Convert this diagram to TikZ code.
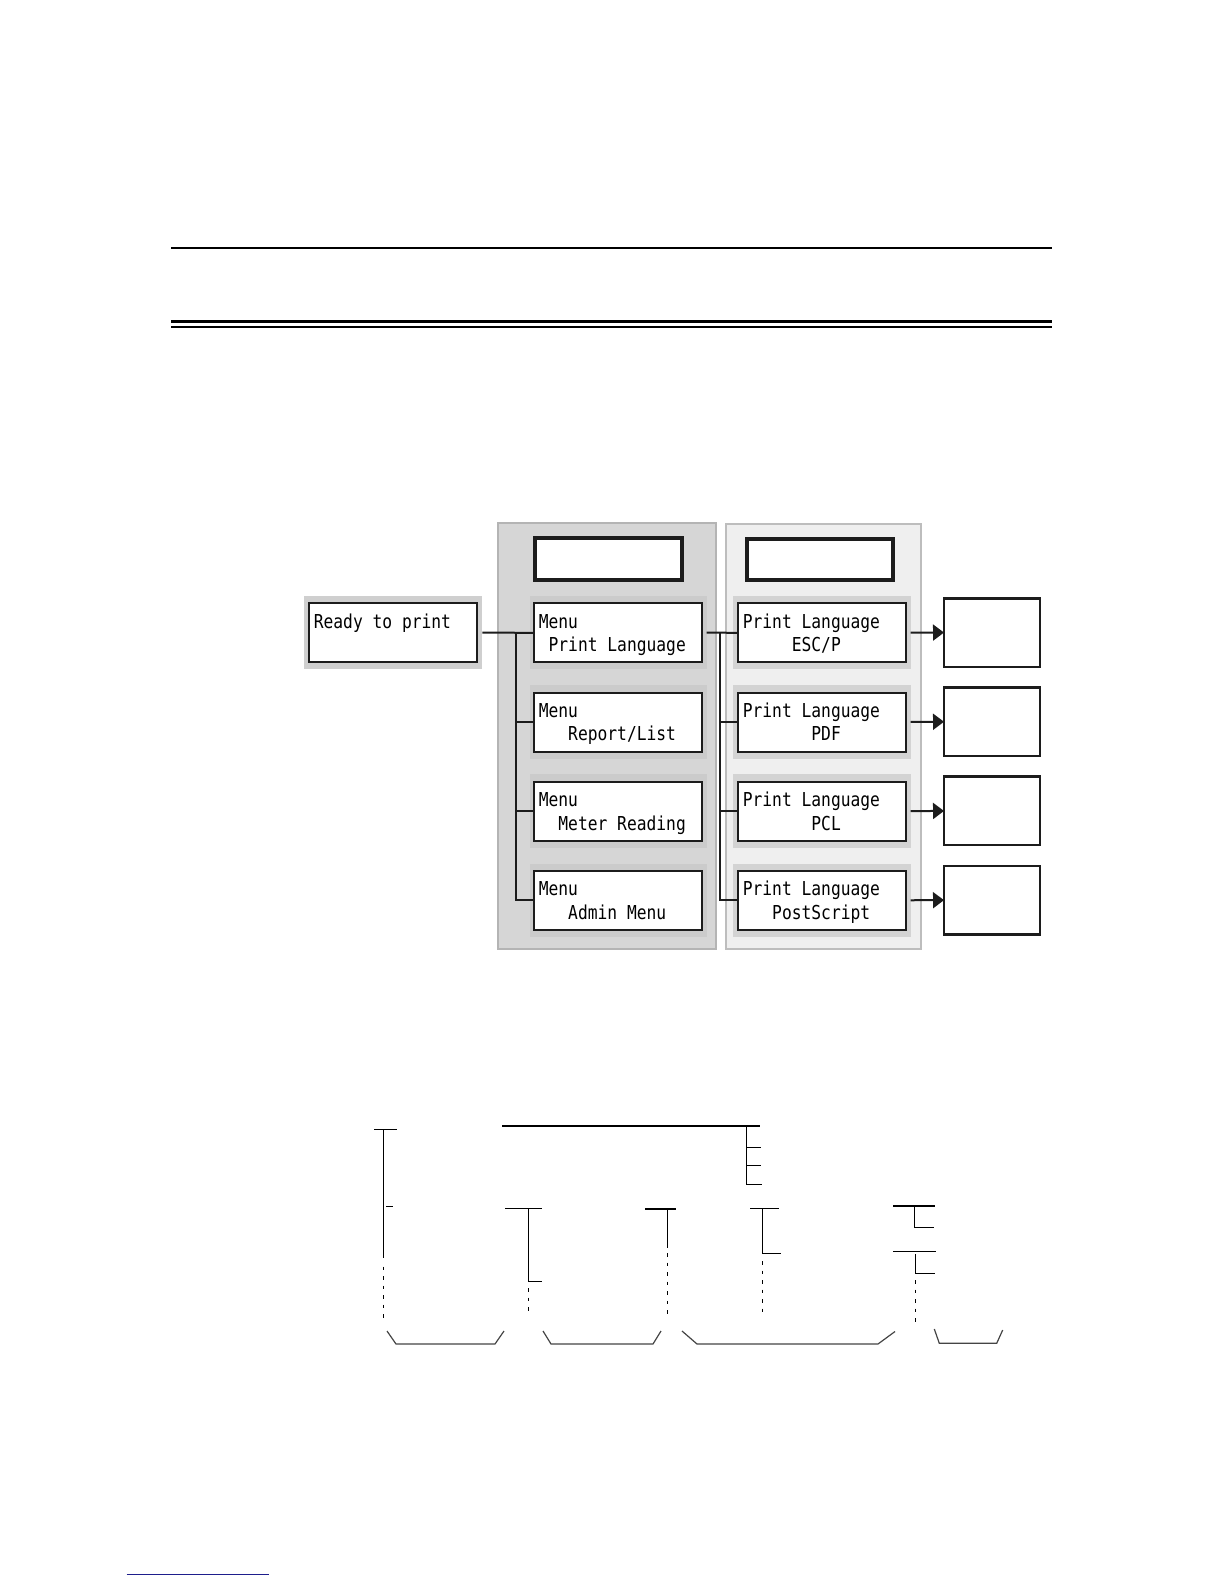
\documentclass[tikz,border=0pt]{standalone}
\usepackage{fontspec}
\newfontfamily\lcd[FakeStretch=0.848]{DejaVu Sans Mono}
\usetikzlibrary{arrows.meta}
\definecolor{panelLf}{HTML}{D6D6D6}
\definecolor{panelLb}{HTML}{B4B4B4}
\definecolor{panelRf}{HTML}{EFEFEF}
\definecolor{panelRb}{HTML}{BDBDBD}
\definecolor{frameL}{HTML}{CBCBCB}
\definecolor{frameR}{HTML}{D3D3D3}
\definecolor{frameReady}{HTML}{CFCFCF}
\definecolor{ink}{HTML}{1C1C1C}
\definecolor{linkblue}{RGB}{30,30,140}
\definecolor{bracegray}{HTML}{444444}
\begin{document}
\begin{tikzpicture}[x=1pt,y=-1pt,
  panelL/.style={draw=panelLb,fill=panelLf,line width=2,inner sep=0,outer sep=0,anchor=north west},
  panelR/.style={draw=panelRb,fill=panelRf,line width=2,inner sep=0,outer sep=0,anchor=north west},
  frmL/.style={fill=frameL,inner sep=0,outer sep=0,anchor=north west,minimum width=176.7,minimum height=73.3},
  frmR/.style={fill=frameR,inner sep=0,outer sep=0,anchor=north west,minimum width=177.4,minimum height=73.3},
  frmReady/.style={fill=frameReady,inner sep=0,outer sep=0,anchor=north west,minimum width=178.3,minimum height=73.3},
  lcdbox/.style={draw=ink,fill=white,line width=2,inner sep=0,outer sep=0,anchor=north west,minimum width=167.4,minimum height=59},
  headbox/.style={draw=ink,fill=white,line width=4,inner sep=0,outer sep=0,anchor=north west,minimum height=41.5},
  outbox/.style={draw=ink,fill=white,line width=2.5,inner sep=0,outer sep=0,anchor=north west,minimum width=96,minimum height=68.5},
  txt/.style={anchor=base west,inner sep=0,outer sep=0,font=\lcd\fontsize{19.2}{23.4}\selectfont},
  conn/.style={draw=ink,line width=2},
  arr/.style={draw=ink,line width=2,-{Triangle[length=11,width=16]}},
  skel/.style={draw=black,line width=1.3},
  dots/.style={draw=black,line width=1.3,dash pattern=on 3.5 off 6},
  brace/.style={draw=bracegray,line width=1.2},
  rule/.style={draw=black}
]
\useasboundingbox (0,0) rectangle (1224,1584);

% page rules
\draw[rule,line width=1.3] (171,248) -- (1052,248);
\draw[rule,line width=3] (171,321.5) -- (1052,321.5);
\draw[rule,line width=1.1] (171,327) -- (1052,327);

% panels
\node[panelL,minimum width=218.5,minimum height=426] (panL) at (497.5,523.3) {};
\node[panelR,minimum width=195.3,minimum height=425.3] (panR) at (725.7,524) {};
\node[headbox,minimum width=147.3] (headL) at (535,538.3) {};
\node[headbox,minimum width=146.6,minimum height=41] (headR) at (746.7,539) {};

% ready box
\node[frmReady] (readyf) at (304,596) {};
\node[lcdbox] (ready) at (309.3,603.3) {};
\node[txt] (readyt) at (313.8,628.3) {Ready to print};

% left column
\node[frmL] (m1f) at (530,596) {};
\node[lcdbox] (m1) at (534.3,603.3) {};
\node[txt] (m1a) at (538.8,628.3) {Menu};
\node[txt] (m1b) at (538.8,651.7) {\phantom{x}Print Language};

\node[frmL] (m2f) at (530,685.2) {};
\node[lcdbox] (m2) at (534.3,692.5) {};
\node[txt] (m2a) at (538.8,717.5) {Menu};
\node[txt] (m2b) at (538.8,740.9) {\phantom{xxx}Report/List};

\node[frmL] (m3f) at (530,774.4) {};
\node[lcdbox] (m3) at (534.3,781.7) {};
\node[txt] (m3a) at (538.8,806.7) {Menu};
\node[txt] (m3b) at (538.8,830.1) {\phantom{xx}Meter Reading};

\node[frmL] (m4f) at (530,863.6) {};
\node[lcdbox] (m4) at (534.3,870.9) {};
\node[txt] (m4a) at (538.8,895.9) {Menu};
\node[txt] (m4b) at (538.8,919.3) {\phantom{xxx}Admin Menu};

% right column
\node[frmR] (p1f) at (733.3,596) {};
\node[lcdbox] (p1) at (738.3,603.3) {};
\node[txt] (p1a) at (742.8,628.3) {Print Language};
\node[txt] (p1b) at (742.8,651.7) {\phantom{xxxxx}ESC/P};

\node[frmR] (p2f) at (733.3,685.2) {};
\node[lcdbox] (p2) at (738.3,692.5) {};
\node[txt] (p2a) at (742.8,717.5) {Print Language};
\node[txt] (p2b) at (742.8,740.9) {\phantom{xxxxxxx}PDF};

\node[frmR] (p3f) at (733.3,774.4) {};
\node[lcdbox] (p3) at (738.3,781.7) {};
\node[txt] (p3a) at (742.8,806.7) {Print Language};
\node[txt] (p3b) at (742.8,830.1) {\phantom{xxxxxxx}PCL};

\node[frmR] (p4f) at (733.3,863.6) {};
\node[lcdbox] (p4) at (738.3,870.9) {};
\node[txt] (p4a) at (742.8,895.9) {Print Language};
\node[txt] (p4b) at (742.8,919.3) {\phantom{xxx}PostScript};

% output boxes
\node[outbox] (o1) at (944,598.3) {};
\node[outbox] (o2) at (944,687.5) {};
\node[outbox] (o3) at (944,776.7) {};
\node[outbox] (o4) at (944,865.9) {};

% connectors: ready -> menus
\coordinate (bL) at (515.7,632.7);
\draw[conn] (readyf.east) -- (m1.west);
\draw[conn] (bL) |- (m2.west);
\draw[conn] (bL) |- (m3.west);
\draw[conn] (bL) |- (m4.west);

% connectors: menu -> print languages
\coordinate (bR) at (719.5,632.7);
\draw[conn] (m1f.east) -- (p1.west);
\draw[conn] (bR) |- (p2.west);
\draw[conn] (bR) |- (p3.west);
\draw[conn] (bR) |- (p4.west);

% arrows to output boxes
\draw[arr] (p1f.east) -- (o1.west);
\draw[arr] (p2f.east) -- (o2.west);
\draw[arr] (p3f.east) -- (o3.west);
\draw[arr] (p4f.east) -- (o4.west);

% lower skeleton tree
\draw[skel] (374,1129.3) -- (396.7,1129.3);
\draw[skel] (383.3,1129.3) -- (383.3,1258.3);
\draw[skel] (386,1206.3) -- (392.7,1206.3);
\draw[dots] (383.3,1266.7) -- (383.3,1318.3);

\draw[skel] (502,1126) -- (760,1126);
\draw[skel] (746.7,1126) -- (746.7,1184.3) -- (762,1184.3);
\draw[skel] (746.7,1147.3) -- (761,1147.3);
\draw[skel] (746.7,1165.3) -- (761,1165.3);

\draw[skel] (505,1208.3) -- (541.7,1208.3);
\draw[skel] (528.3,1208.3) -- (528.3,1281.7) -- (541.7,1281.7);
\draw[dots] (528.3,1288) -- (528.3,1315);

\draw[skel] (645,1209) -- (675.7,1209);
\draw[skel] (667.3,1209) -- (667.3,1248.3);
\draw[dots] (667.3,1253) -- (667.3,1315);

\draw[skel] (750,1208.3) -- (779,1208.3);
\draw[skel] (762.3,1208.3) -- (762.3,1253.3) -- (781,1253.3);
\draw[dots] (762.3,1261) -- (762.3,1315);

\draw[skel] (893,1206) -- (935,1206);
\draw[skel] (914.3,1206) -- (914.3,1227.3) -- (934,1227.3);
\draw[skel] (893,1251.7) -- (935.7,1251.7);
\draw[skel] (915.7,1254) -- (915.7,1273.3) -- (935,1273.3);
\draw[dots] (915.7,1280) -- (915.7,1325);

% braces
\draw[brace] (387,1331) -- (396,1344) -- (495,1344) -- (504,1331);
\draw[brace] (543,1331) -- (551,1344) -- (653,1344) -- (661,1331);
\draw[brace] (682,1331) -- (697,1344) -- (878,1344) -- (895,1331.5);
\draw[brace] (934.3,1329) -- (939.3,1343.3) -- (996.7,1343.3) -- (1002.7,1330);

% bottom link rule
\draw[draw=linkblue,line width=1.5] (126.7,1574.7) -- (269,1574.7);
\end{tikzpicture}
\end{document}
